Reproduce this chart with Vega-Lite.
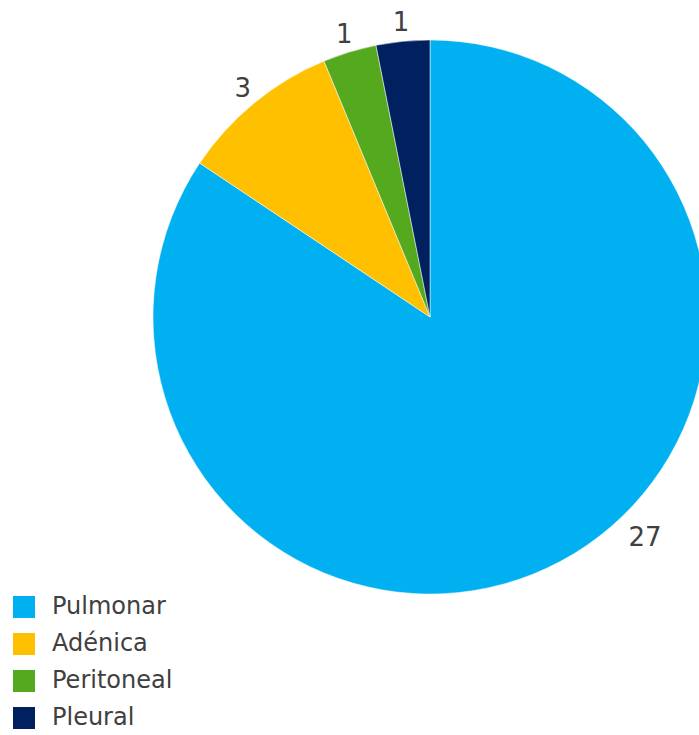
{
  "$schema": "https://vega.github.io/schema/vega-lite/v6.json",
  "width": 860,
  "height": 634,
  "autosize": "none",
  "padding": {"left": 0, "top": 0, "right": 0, "bottom": 101},
  "background": "white",
  "data": {
    "values": [
      {"tipo": "Pulmonar", "valor": 27, "orden": 1},
      {"tipo": "Adénica", "valor": 3, "orden": 2},
      {"tipo": "Peritoneal", "valor": 1, "orden": 3},
      {"tipo": "Pleural", "valor": 1, "orden": 4}
    ]
  },
  "config": {
    "view": {"stroke": null},
    "font": "DejaVu Sans"
  },
  "encoding": {
    "theta": {"field": "valor", "type": "quantitative", "stack": true},
    "order": {"field": "orden", "type": "quantitative"}
  },
  "layer": [
    {
      "mark": {"type": "arc", "outerRadius": 277, "stroke": "white", "strokeWidth": 0.5},
      "encoding": {
        "color": {
          "field": "tipo",
          "type": "nominal",
          "scale": {
            "domain": ["Pulmonar", "Adénica", "Peritoneal", "Pleural"],
            "range": ["#00B0F0", "#FFC000", "#55A91F", "#002060"]
          },
          "legend": {
            "title": null,
            "orient": "none",
            "legendX": 12,
            "legendY": 595,
            "symbolType": "square",
            "symbolSize": 484,
            "symbolStrokeWidth": 0,
            "symbolOpacity": 1,
            "labelFontSize": 24,
            "labelColor": "#404040",
            "labelFont": "DejaVu Sans",
            "labelOffset": 16,
            "rowPadding": 13,
            "padding": 0
          }
        }
      }
    },
    {
      "mark": {"type": "text", "radius": 295, "fontSize": 26, "fill": "#404040", "font": "DejaVu Sans"},
      "encoding": {
        "text": {
          "condition": {"test": "datum.tipo !== 'Pulmonar'", "field": "valor", "type": "quantitative"},
          "value": ""
        }
      }
    },
    {
      "mark": {"type": "text", "radius": 293, "fontSize": 26, "fill": "#404040", "font": "DejaVu Sans", "dx": 77, "dy": -37},
      "encoding": {
        "text": {
          "condition": {"test": "datum.tipo === 'Pulmonar'", "field": "valor", "type": "quantitative"},
          "value": ""
        }
      }
    }
  ]
}
